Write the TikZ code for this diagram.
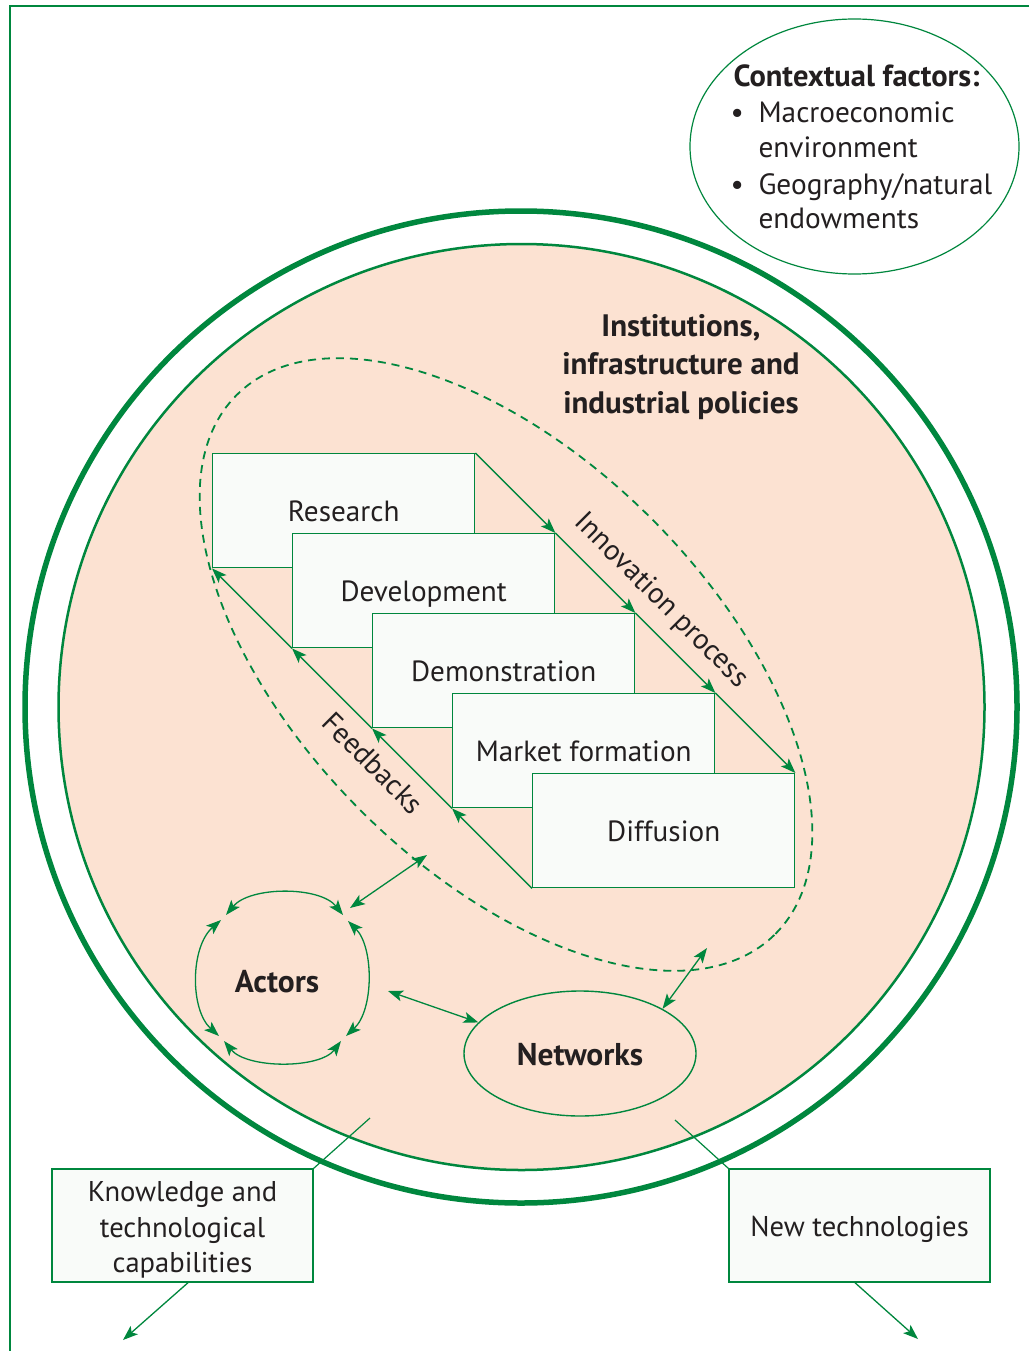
\documentclass[tikz,border=0pt]{standalone}
\usepackage{fontspec}
\setmainfont{PT Sans}
\usetikzlibrary{arrows.meta,shapes.geometric}
\definecolor{igreen}{RGB}{0,135,62}
\definecolor{peach}{RGB}{252,226,210}
\definecolor{boxfill}{RGB}{249,251,249}
\definecolor{ink}{RGB}{35,31,32}
\begin{document}
\begin{tikzpicture}[x=1pt,y=1pt,
  tip/.tip={Stealth[length=15pt,width=11pt,inset=3.5pt]},
  every node/.style={text=ink},
  stagebox/.style={draw=igreen, line width=1.4pt, fill=boxfill, minimum width=262pt, minimum height=114pt, inner sep=0pt, anchor=north west, font=\fontsize{29.2}{33}\selectfont, text height=28pt, text depth=6pt},
  labelbox/.style={draw=igreen, line width=1.4pt, fill=boxfill, minimum width=261pt, minimum height=113pt, inner sep=0pt},
  labeltext/.style={align=center, font=\fontsize{28.6}{35.5}\selectfont},
  flow/.style={igreen, line width=1.3pt, -{tip}},
  both/.style={igreen, line width=1.3pt, {tip}-{tip}},
  thin/.style={igreen, line width=1.2pt},
  ctxtext/.style={anchor=base west, font=\fontsize{29.3}{34}\selectfont},
  rottext/.style={rotate=-45, font=\fontsize{29}{33}\selectfont},
  boldtext/.style={font=\bfseries\fontsize{31}{38.5}\selectfont}
]
\useasboundingbox (0,0) rectangle (1029,-1351);
\fill[white] (0,0) rectangle (1029,-1351);
% frame
\draw[igreen, line width=2pt] (1029,-6) -- (10,-6) -- (10,-1351);
% circles
\draw[igreen, line width=5.5pt] (521,-707) circle[radius=496];
\draw[igreen, line width=2.5pt, fill=peach] (521.5,-707) circle[radius=463];
% dashed process ellipse
\draw[igreen, line width=1.8pt, dash pattern=on 8pt off 6pt, rotate around={-45:(506,-664.5)}] (506,-664.5) ellipse[x radius=381, y radius=206];
% stage boxes
\node[stagebox] (res) at (212,-453) {Research};
\node[stagebox] (dev) at (292,-533) {Development};
\node[stagebox] (dem) at (372,-613) {Demonstration};
\node[stagebox] (mkt) at (452,-693) {Market formation};
\node[stagebox] (dif) at (532,-773) {Diffusion};
% innovation process arrows
\draw[flow] (res.north east) -- (dev.north east);
\draw[flow] (dev.north east) -- (dem.north east);
\draw[flow] (dem.north east) -- (mkt.north east);
\draw[flow] (mkt.north east) -- (dif.north east);
% feedback arrows
\draw[flow] (dif.south west) -- (mkt.south west);
\draw[flow] (mkt.south west) -- (dem.south west);
\draw[flow] (dem.south west) -- (dev.south west);
\draw[flow] (dev.south west) -- (res.south west);
\node[rottext] (inn) at (661,-601) {Innovation process};
\node[rottext] (fb) at (373,-763) {Feedbacks};
% institutions
\node[align=center, boldtext] (inst) at (681,-367) {Institutions,\\infrastructure and\\industrial policies};
% actors
\node[anchor=base, font=\bfseries\fontsize{31.5}{36}\selectfont] (act) at (277,-992) {Actors};
\coordinate (a1) at (226,-915);
\coordinate (a2) at (343,-915);
\coordinate (a3) at (348,-921);
\coordinate (a4) at (346,-1036);
\coordinate (a5) at (341,-1041);
\coordinate (a6) at (224,-1041);
\coordinate (a7) at (219,-1036);
\coordinate (a8) at (221,-920);
\draw[both] (a1) .. controls (250,-886) and (320,-886) .. (a2);
\draw[both] (a3) .. controls (374,-947) and (374,-1010) .. (a4);
\draw[both] (a5) .. controls (320,-1069) and (247,-1069) .. (a6);
\draw[both] (a7) .. controls (190,-1010) and (190,-947) .. (a8);
% networks
\node[ellipse, draw=igreen, line width=1.4pt, minimum width=232pt, minimum height=125pt, inner sep=0pt] (net) at (580,-1053.5) {};
\node[anchor=base, font=\bfseries\fontsize{31.5}{36}\selectfont] (netl) at (580,-1065) {Networks};
% links
\coordinate (actA) at (350,-908);
\coordinate (procA) at (427,-855);
\coordinate (actB) at (388,-991);
\coordinate (procB) at (707,-948);
\draw[both] (actA) -- (procA);
\draw[both] (actB) -- (net.163);
\draw[both] (net.north east) -- (procB);
% contextual factors
\node[ellipse, draw=igreen, line width=1.2pt, fill=white, minimum width=329pt, minimum height=255pt, inner sep=0pt] (ctx) at (854.5,-146.5) {};
\node[anchor=base west, font=\bfseries\fontsize{30.5}{34}\selectfont] (ctxh) at (730,-87) {Contextual factors:};
\node[ctxtext] (bul1) at (727,-123) {•};
\node[ctxtext] (c1) at (755,-123) {Macroeconomic};
\node[ctxtext] (c2) at (755,-158) {environment};
\node[ctxtext] (bul2) at (727,-194) {•};
\node[ctxtext] (c3) at (755,-194) {Geography/natural};
\node[ctxtext] (c4) at (755,-228) {endowments};
% bottom boxes
\node[labelbox] (know) at (182.5,-1225.5) {};
\node[labeltext] (knowt) at (182.5,-1230) {Knowledge and\\technological\\capabilities};
\node[labelbox] (newt) at (859.5,-1225.5) {};
\node[labeltext] (newtt) at (859.5,-1229) {New technologies};
\coordinate (kin) at (370,-1118);
\coordinate (nin) at (675,-1120);
\coordinate (kout) at (123,-1340);
\coordinate (nout) at (918,-1339);
\draw[thin] (kin) -- (know.north east);
\draw[thin] (nin) -- (newt.north west);
\draw[flow] ([xshift=5.5pt]know.south) -- (kout);
\draw[flow] ([xshift=-4.5pt]newt.south) -- (nout);
\end{tikzpicture}
\end{document}
